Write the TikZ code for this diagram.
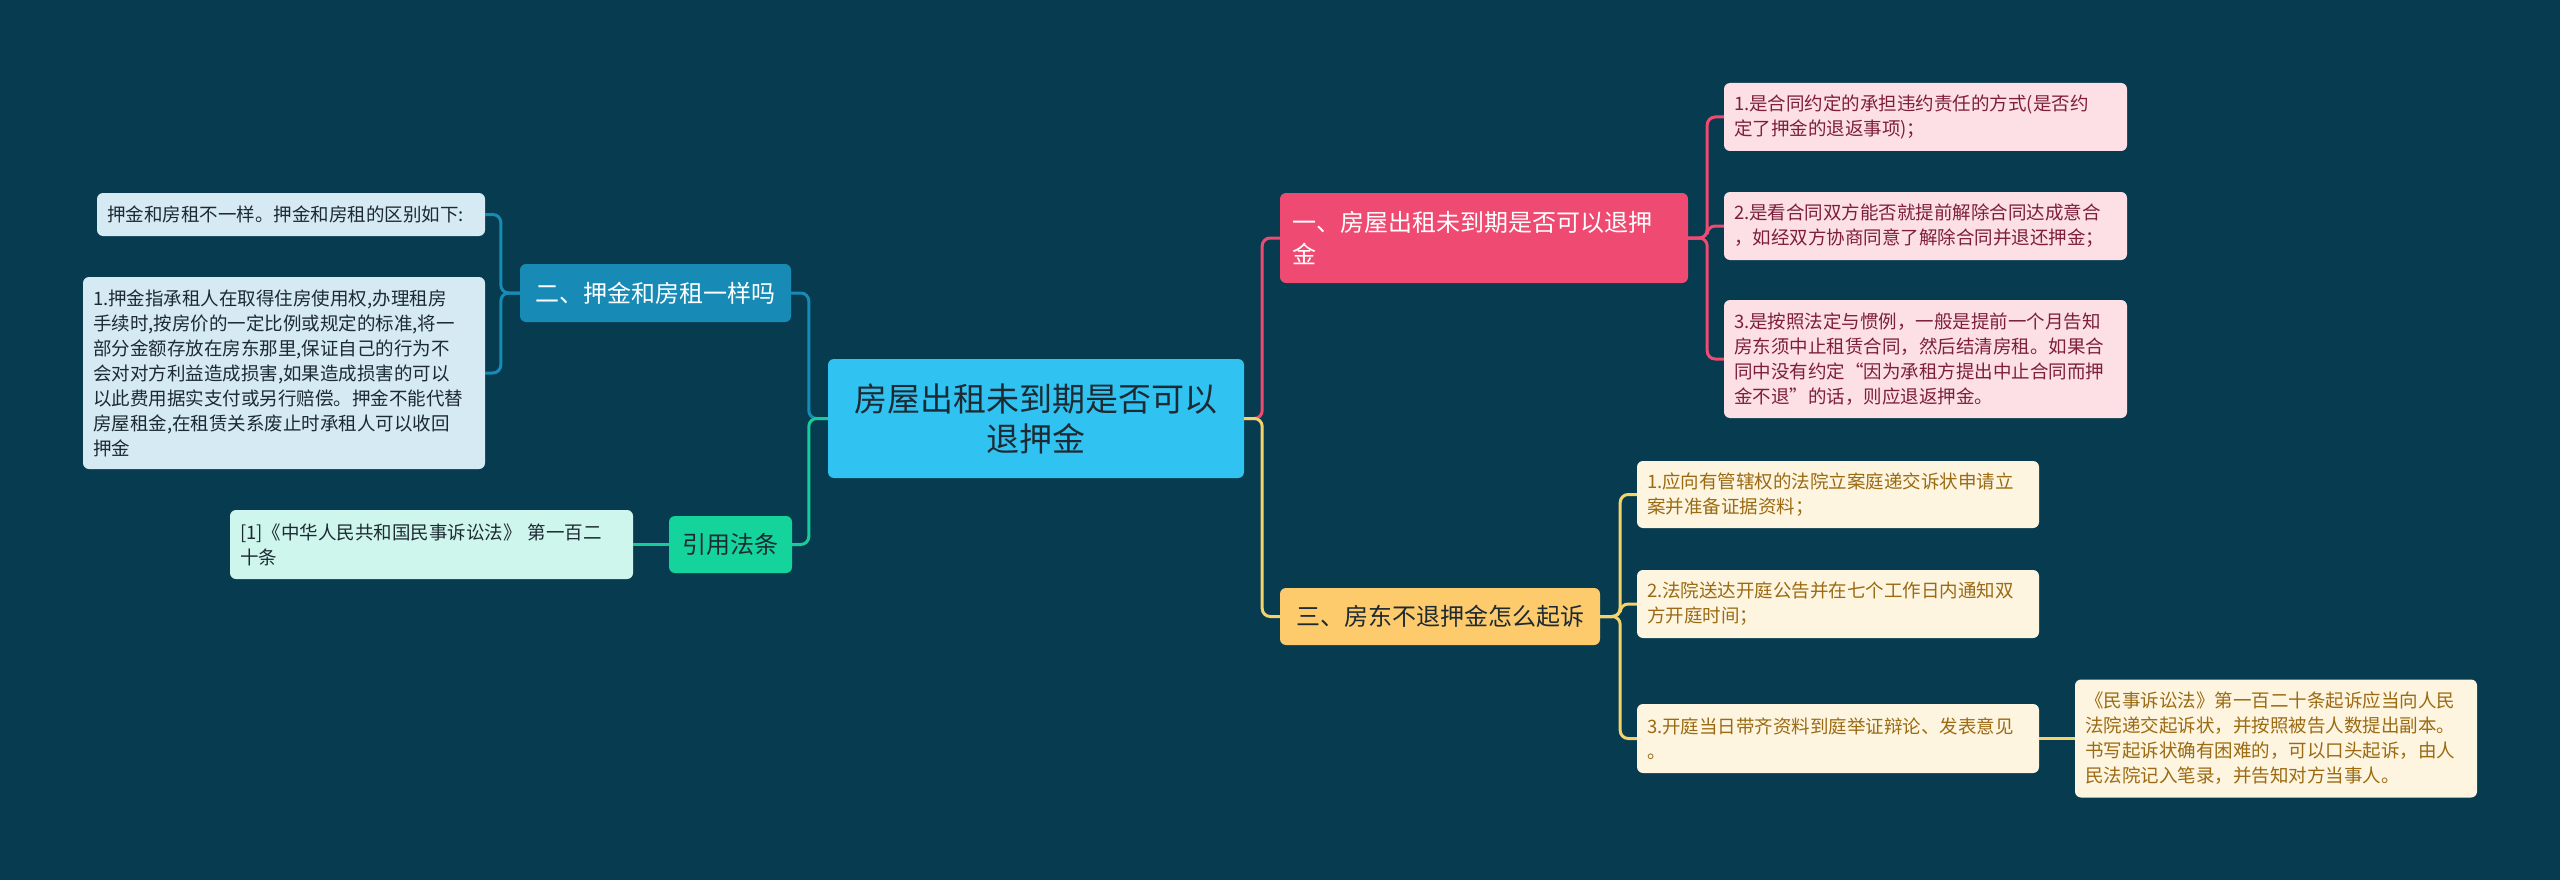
\documentclass[tikz,border=0pt]{standalone}
\usepackage{fontspec}
\setmainfont{Noto Sans CJK SC}
\definecolor{bgcol}{HTML}{073B4F}
\definecolor{rootfill}{HTML}{30C3F2}
\definecolor{darktxt}{HTML}{1D2A33}
\definecolor{bluefill}{HTML}{178BB6}
\definecolor{blueleaf}{HTML}{D5EAF2}
\definecolor{greenfill}{HTML}{14D49C}
\definecolor{greenleaf}{HTML}{CEF6EC}
\definecolor{greenline}{HTML}{16CC99}
\definecolor{pinkfill}{HTML}{EF4A72}
\definecolor{pinkleaf}{HTML}{FDE0E6}
\definecolor{pinktxt}{HTML}{7D1F3B}
\definecolor{yellowfill}{HTML}{FDCB6B}
\definecolor{yellowleaf}{HTML}{FDF5E0}
\definecolor{yellowtxt}{HTML}{9B6A13}
\definecolor{yellowline}{HTML}{F6D36A}
\begin{document}
\begin{tikzpicture}[x=1pt,y=-1pt,
  box/.style={rounded corners=6pt, inner ysep=0pt},
  rootbox/.style={box, fill=rootfill, text=darktxt, align=center, font=\fontsize{33}{40}\selectfont},
  topicbox/.style={box, inner xsep=12pt, align=left, font=\fontsize{24}{32}\selectfont},
  leafbox/.style={box, inner xsep=10pt, align=left, font=\fontsize{18.5}{25}\selectfont},
  link/.style={line width=3pt, rounded corners=8pt}]
                \fill[bgcol] (0,0) rectangle (2560,880);
                \useasboundingbox (0,0) rectangle (2560,880);

                \node[rootbox, minimum width=416pt, minimum height=119pt] (root) at (1036,418.5) {房屋出租未到期是否可以\\退押金};

                \node[topicbox, fill=bluefill, text=white, minimum width=271pt, minimum height=58pt] (deposit) at (655.5,293) {二、押金和房租一样吗};
                \node[leafbox, fill=blueleaf, text=darktxt, text width=368pt, minimum height=43pt] (diffA) at (291,214.5) {押金和房租不一样。押金和房租的区别如下:};
                \node[leafbox, fill=blueleaf, text=darktxt, text width=382pt, minimum height=192pt] (diffB) at (284,373) {1.押金指承租人在取得住房使用权,办理租房\\手续时,按房价的一定比例或规定的标准,将一\\部分金额存放在房东那里,保证自己的行为不\\会对对方利益造成损害,如果造成损害的可以\\以此费用据实支付或另行赔偿。押金不能代替\\房屋租金,在租赁关系废止时承租人可以收回\\押金};

                \node[topicbox, fill=greenfill, text=darktxt, minimum width=123pt, minimum height=57pt] (cite) at (730.5,544.5) {引用法条};
                \node[leafbox, fill=greenleaf, text=darktxt, text width=383pt, minimum height=69pt] (law) at (431.5,544.5) {[1]《中华人民共和国民事诉讼法》 第一百二\\十条};

                \node[topicbox, fill=pinkfill, text=white, text width=384pt, minimum height=90pt] (refund) at (1484,238) {一、房屋出租未到期是否可以退押\\金};
                \node[leafbox, fill=pinkleaf, text=pinktxt, text width=383pt, minimum height=68pt] (refundA) at (1925.5,117) {1.是合同约定的承担违约责任的方式(是否约\\定了押金的退返事项)；};
                \node[leafbox, fill=pinkleaf, text=pinktxt, text width=383pt, minimum height=68pt] (refundB) at (1925.5,226) {2.是看合同双方能否就提前解除合同达成意合\\，如经双方协商同意了解除合同并退还押金；};
                \node[leafbox, fill=pinkleaf, text=pinktxt, text width=383pt, minimum height=118pt] (refundC) at (1925.5,359) {3.是按照法定与惯例，一般是提前一个月告知\\房东须中止租赁合同，然后结清房租。如果合\\同中没有约定“因为承租方提出中止合同而押\\金不退”的话，则应退返押金。};

                \node[topicbox, fill=yellowfill, text=darktxt, minimum width=320pt, minimum height=57pt] (sue) at (1440,616.5) {三、房东不退押金怎么起诉};
                \node[leafbox, fill=yellowleaf, text=yellowtxt, text width=382pt, minimum height=67pt] (sueA) at (1838,494.5) {1.应向有管辖权的法院立案庭递交诉状申请立\\案并准备证据资料；};
                \node[leafbox, fill=yellowleaf, text=yellowtxt, text width=382pt, minimum height=68pt] (sueB) at (1838,604) {2.法院送达开庭公告并在七个工作日内通知双\\方开庭时间；};
                \node[leafbox, fill=yellowleaf, text=yellowtxt, text width=382pt, minimum height=69pt] (sueC) at (1838,738.5) {3.开庭当日带齐资料到庭举证辩论、发表意见\\。};
                \node[leafbox, fill=yellowleaf, text=yellowtxt, text width=382pt, minimum height=118pt] (sueNote) at (2276,738.5) {《民事诉讼法》第一百二十条起诉应当向人民\\法院递交起诉状，并按照被告人数提出副本。\\书写起诉状确有困难的，可以口头起诉，由人\\民法院记入笔录，并告知对方当事人。};

                \draw[link, bluefill] (root.west) -- ++(-19,0) |- (deposit.east);
                \draw[link, greenline] (root.west) -- ++(-19,0) |- (cite.east);
                \draw[link, pinkfill] (root.east) -- ++(18,0) |- (refund.west);
                \draw[link, yellowline] (root.east) -- ++(18,0) |- (sue.west);

                \draw[link, bluefill] (deposit.west) -- ++(-19,0) |- (diffA.east);
                \draw[link, bluefill] (deposit.west) -- ++(-19,0) |- (diffB.east);
                \draw[link, greenline] (cite.west) -- (law.east);

                \draw[link, pinkfill] (refund.east) -- ++(19,0) |- (refundA.west);
                \draw[link, pinkfill] (refund.east) -- ++(19,0) |- (refundB.west);
                \draw[link, pinkfill] (refund.east) -- ++(19,0) |- (refundC.west);

                \draw[link, yellowline] (sue.east) -- ++(20,0) |- (sueA.west);
                \draw[link, yellowline] (sue.east) -- ++(20,0) |- (sueB.west);
                \draw[link, yellowline] (sue.east) -- ++(20,0) |- (sueC.west);
                \draw[link, yellowline] (sueC.east) -- (sueNote.west);
            \end{tikzpicture}
\end{document}
